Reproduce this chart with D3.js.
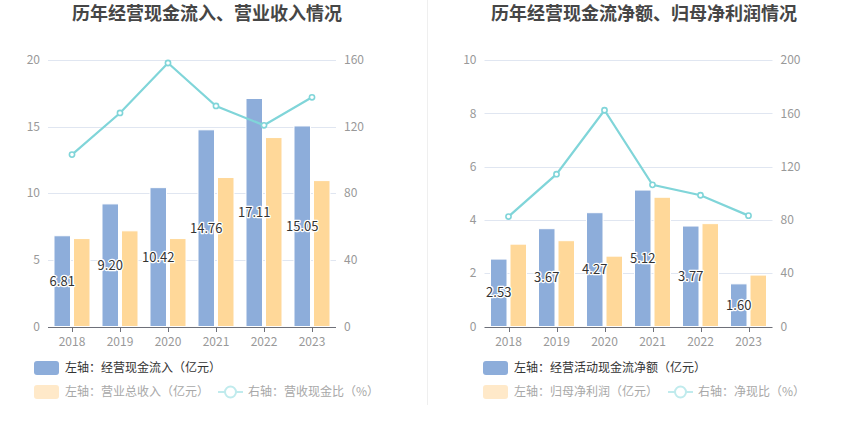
<!DOCTYPE html>
<html><head><meta charset="utf-8">
<script src="https://cdn.jsdelivr.net/npm/d3@7/dist/d3.min.js"></script>
<style>
html,body{margin:0;padding:0;background:#fff;}
svg{display:block;font-family:"Noto Sans CJK SC","Microsoft YaHei",sans-serif;}
</style></head>
<body><svg id="c" width="850" height="436"></svg>
<script>
const years = ["2018","2019","2020","2021","2022","2023"];
// Chart 1
const inflow = [6.81, 9.20, 10.42, 14.76, 17.11, 15.05];
const revenue = [6.60, 7.18, 6.60, 11.18, 14.18, 10.95];
const inflowRatio = [103.2, 128.2, 158.2, 132.4, 120.8, 137.6];
const leftTicks1 = [0, 5, 10, 15, 20];
const rightTicks1 = [0, 40, 80, 120, 160];
// Chart 2
const netCash = [2.53, 3.67, 4.27, 5.12, 3.77, 1.60];
const netProfit = [3.09, 3.22, 2.64, 4.85, 3.86, 1.93];
const netRatio = [82.5, 114.3, 162.3, 106.3, 98.5, 83.2];
const leftTicks2 = [0, 2, 4, 6, 8, 10];
const rightTicks2 = [0, 40, 80, 120, 160, 200];

const C_BLUE = "#8DADDA", C_YEL = "#FFD899", C_LINE = "#80D5D9";
const svg = d3.select("#c");

// divider
svg.append("line").attr("x1",427.5).attr("x2",427.5).attr("y1",0).attr("y2",405)
  .attr("stroke","#EFEFEF").attr("stroke-width",1);

function chart(cfg){
  const g = svg.append("g");
  const x = d3.scaleBand().domain(years).range([cfg.x0, cfg.x1]);
  const yL = d3.scaleLinear().domain([0, cfg.lMax]).range([326.5, 60]);
  const yR = d3.scaleLinear().domain([0, cfg.rMax]).range([326.5, 60]);

  g.append("text").attr("x",cfg.titleX).attr("y",20)
    .attr("text-anchor","middle").attr("font-size",18).attr("font-weight","bold")
    .attr("fill","#464646").text(cfg.title);

  // grid
  g.selectAll(".grid").data(cfg.lTicks.slice(1)).join("line")
    .attr("x1",cfg.x0).attr("x2",cfg.x1)
    .attr("y1",d=>Math.round(yL(d))+0.5).attr("y2",d=>Math.round(yL(d))+0.5)
    .attr("stroke","#E0E6F1");

  // axis labels
  g.selectAll(".lt").data(cfg.lTicks).join("text")
    .attr("x",cfg.x0-8).attr("y",d=>yL(d)).attr("dy","0.35em")
    .attr("text-anchor","end").attr("font-size",12).attr("fill","#999")
    .text(d=>d);
  g.selectAll(".rt").data(cfg.rTicks).join("text")
    .attr("x",cfg.x1+8).attr("y",d=>yR(d)).attr("dy","0.35em")
    .attr("text-anchor","start").attr("font-size",12).attr("fill","#999")
    .text(d=>d);

  const bw = 16.5, gap = 3;
  const cx = d => x(d) + x.bandwidth()/2;
  // bars
  g.selectAll(".b1").data(years).join("rect")
    .attr("x",(d)=>cx(d)-gap/2-bw).attr("width",bw)
    .attr("y",(d,i)=>yL(cfg.s1[i])).attr("height",(d,i)=>yL(0)-yL(cfg.s1[i]))
    .attr("fill",C_BLUE).attr("stroke","#fff").attr("stroke-width",1);
  g.selectAll(".b2").data(years).join("rect")
    .attr("x",(d)=>cx(d)+gap/2).attr("width",bw)
    .attr("y",(d,i)=>yL(cfg.s2[i])).attr("height",(d,i)=>yL(0)-yL(cfg.s2[i]))
    .attr("fill",C_YEL).attr("stroke","#fff").attr("stroke-width",1);

  // x axis
  g.append("line").attr("x1",cfg.x0).attr("x2",cfg.x1)
    .attr("y1",Math.round(yL(0))+0.5).attr("y2",Math.round(yL(0))+0.5)
    .attr("stroke","#6E7079");
  g.selectAll(".tk").data(years).join("line")
    .attr("x1",d=>Math.round(cx(d))+0.5).attr("x2",d=>Math.round(cx(d))+0.5)
    .attr("y1",Math.round(yL(0))+0.5).attr("y2",Math.round(yL(0))+5)
    .attr("stroke","#6E7079");
  g.selectAll(".xl").data(years).join("text")
    .attr("x",d=>cx(d)).attr("y",yL(0)+19)
    .attr("text-anchor","middle").attr("font-size",12).attr("fill","#999")
    .text(d=>d);

  // line
  const line = d3.line().x((d,i)=>cx(years[i])).y(d=>yR(d));
  g.append("path").attr("d",line(cfg.s3)).attr("fill","none")
    .attr("stroke",C_LINE).attr("stroke-width",2.2);
  g.selectAll(".pt").data(cfg.s3).join("circle")
    .attr("cx",(d,i)=>cx(years[i])).attr("cy",d=>yR(d)).attr("r",2.6)
    .attr("fill","#fff").attr("stroke",C_LINE).attr("stroke-width",1.6);

  // labels
  g.selectAll(".lb").data(cfg.s1).join("text")
    .attr("x",(d,i)=>cx(years[i])-gap/2-bw/2)
    .attr("y",d=>(yL(d)+yL(0))/2).attr("dy","0.35em")
    .attr("text-anchor","middle").attr("font-size",13).attr("fill","#333")
    .attr("stroke","#fff").attr("stroke-width",2.5).attr("paint-order","stroke")
    .attr("stroke-linejoin","round")
    .text(d=>d.toFixed(2));

  // legend
  const lx = cfg.legX;
  const L = g.append("g");
  L.append("rect").attr("x",lx).attr("y",361).attr("width",25).attr("height",14).attr("rx",3)
    .attr("fill",C_BLUE);
  L.append("text").attr("x",lx+31).attr("y",368).attr("dy","0.35em").attr("font-size",12)
    .attr("fill","#333").text(cfg.leg1);
  L.append("rect").attr("x",lx).attr("y",385).attr("width",25).attr("height",14).attr("rx",3)
    .attr("fill","#FFE9C9");
  L.append("text").attr("x",lx+31).attr("y",392).attr("dy","0.35em").attr("font-size",12)
    .attr("fill","#A8A8A8").text(cfg.leg2);
  const ix = cfg.leg3X;
  L.append("line").attr("x1",ix).attr("x2",ix+25).attr("y1",392).attr("y2",392)
    .attr("stroke","#C0EBED").attr("stroke-width",2);
  L.append("circle").attr("cx",ix+12.5).attr("cy",392).attr("r",5.5).attr("fill","#fff")
    .attr("stroke","#C0EBED").attr("stroke-width",2);
  L.append("text").attr("x",ix+30).attr("y",392).attr("dy","0.35em").attr("font-size",12)
    .attr("fill","#A8A8A8").text(cfg.leg3);
}

chart({x0:48, x1:336, lMax:20, rMax:160, lTicks:leftTicks1, rTicks:rightTicks1,
  s1:inflow, s2:revenue, s3:inflowRatio, title:"历年经营现金流入、营业收入情况", titleX:207,
  legX:34, leg1:"左轴：经营现金流入（亿元）", leg2:"左轴：营业总收入（亿元）",
  leg3X:218, leg3:"右轴：营收现金比（%）"});
chart({x0:484.5, x1:772.5, lMax:10, rMax:200, lTicks:leftTicks2, rTicks:rightTicks2,
  s1:netCash, s2:netProfit, s3:netRatio, title:"历年经营现金流净额、归母净利润情况", titleX:644,
  legX:483, leg1:"左轴：经营活动现金流净额（亿元）", leg2:"左轴：归母净利润（亿元）",
  leg3X:668, leg3:"右轴：净现比（%）"});
</script></body></html>
